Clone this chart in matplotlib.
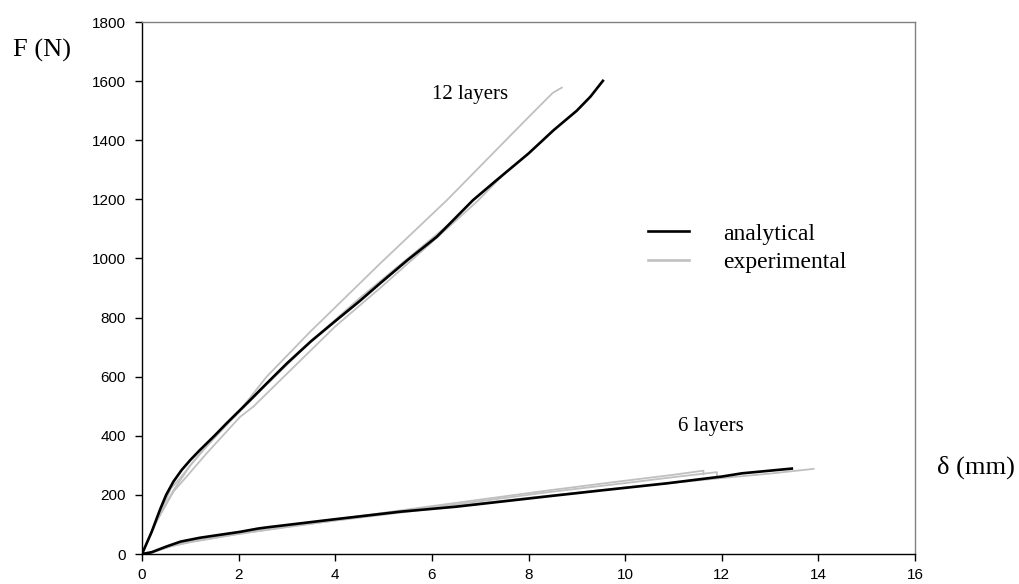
import matplotlib
matplotlib.use("Agg")
import matplotlib.pyplot as plt

# 12 layers - analytical
a12_x = [0, 0.2, 0.37, 0.5, 0.65, 0.82, 1.0, 1.2, 1.5, 1.75, 2.24, 2.58, 3.0, 3.5, 4.03, 4.5, 4.93, 5.5, 6.1, 6.85, 7.34, 8.0, 8.52, 9.0, 9.28, 9.54]
a12_y = [0, 75, 149, 200, 245, 284, 318, 352, 400, 442, 521, 577, 645, 720, 792, 855, 916, 995, 1073, 1197, 1265, 1355, 1434, 1500, 1547, 1601]

# 12 layers - experimental (three specimens)
e12a_x = [0, 0.3, 0.65, 1.0, 1.5, 2.0, 2.58, 3.5, 4.93, 6.31, 7.5, 8.0, 8.5, 8.69]
e12a_y = [0, 110, 215, 300, 395, 480, 600, 755, 983, 1197, 1395, 1478, 1560, 1578]
e12b_x = [0, 0.3, 0.65, 0.86, 1.34, 2.03, 2.3, 3.0, 4.0, 4.93, 6.0, 6.93, 7.51]
e12b_y = [0, 110, 211, 250, 341, 464, 498, 610, 770, 900, 1055, 1192, 1288]
e12c_x = [0, 0.3, 0.6, 0.78, 1.2, 1.8, 2.5, 3.5, 4.5, 5.5, 6.5]
e12c_y = [0, 112, 222, 255, 340, 445, 560, 720, 865, 1000, 1135]

# 6 layers - analytical
a6_x = [0, 0.2, 0.5, 0.8, 1.2, 2.03, 2.4, 2.58, 3.96, 5.34, 6.5, 8.45, 9.5, 10.86, 12.0, 12.42, 13.0, 13.45]
a6_y = [0, 6, 25, 42, 55, 75, 86, 90, 117, 143, 160, 196, 215, 239, 262, 273, 282, 289]

# 6 layers - experimental (three specimens)
e6a_x = [0, 0.2, 0.6, 1.0, 2.0, 3.0, 4.0, 6.0, 8.0, 10.0, 12.0, 13.0, 13.9]
e6a_y = [0, 5, 28, 42, 68, 92, 113, 153, 190, 225, 257, 272, 288]
e6b_x = [0, 0.2, 0.6, 1.0, 2.0, 4.0, 6.0, 8.45, 10.0, 11.0, 11.9, 11.9]
e6b_y = [0, 5, 26, 40, 68, 114, 157, 210, 240, 260, 277, 262]
e6c_x = [0, 0.2, 0.6, 1.0, 2.0, 4.0, 6.0, 8.45, 10.0, 11.0, 11.62, 11.62]
e6c_y = [0, 5, 27, 41, 70, 117, 162, 216, 248, 268, 282, 270]

xticks = list(range(0, 17, 2))
yticks = list(range(0, 1801, 200))

black = '#000000'
grey = '#c0c0c0'
W, H = 1019, 584

fig = plt.figure(figsize=(W / 100, H / 100), dpi=100)
ax = fig.add_axes([142 / W, 1 - 554 / H, (915 - 142) / W, (554 - 22) / H])

for xs, ys in [(e12a_x, e12a_y), (e12b_x, e12b_y), (e12c_x, e12c_y),
               (e6a_x, e6a_y), (e6b_x, e6b_y), (e6c_x, e6c_y)]:
    ax.plot(xs, ys, color=grey, lw=1.3)
ax.plot(a12_x, a12_y, color=black, lw=1.9)
ax.plot(a6_x, a6_y, color=black, lw=1.9)

# legend handles only
ax.plot([], [], color=black, lw=1.9, label='analytical')
ax.plot([], [], color=grey, lw=1.9, label='experimental')
leg = ax.legend(loc='upper left', bbox_to_anchor=(648 / W, 1 - 223 / H),
                bbox_transform=fig.transFigure, frameon=False,
                prop={'family': 'Liberation Serif', 'size': 17},
                handlelength=1.74, handletextpad=1.44, labelspacing=0.3,
                borderpad=0, borderaxespad=0)

ax.set_xlim(0, 16)
ax.set_ylim(0, 1800)
ax.set_xticks(xticks)
ax.set_yticks(yticks)
ax.tick_params(direction='out', length=5, width=1, labelsize=11)
ax.tick_params(axis='y', pad=6.5)
ax.tick_params(axis='x', pad=5)
for lab in ax.get_xticklabels() + ax.get_yticklabels():
    lab.set_family('Liberation Sans')

ax.spines['top'].set_color('#808080')
ax.spines['right'].set_color('#808080')
for s in ax.spines.values():
    s.set_linewidth(1)

ax.text(6.0, 1555, '12 layers', fontsize=15, family='Liberation Serif', va='center')
ax.text(11.1, 430, '6 layers', fontsize=15, family='Liberation Serif', va='center')
fig.text(13 / W, 1 - 50 / H, 'F (N)', fontsize=19, family='Liberation Serif', va='center')
fig.text(937 / W, 1 - 467 / H, 'δ (mm)', fontsize=19, family='Liberation Serif', va='center')

fig.savefig('out.png', dpi=100)
